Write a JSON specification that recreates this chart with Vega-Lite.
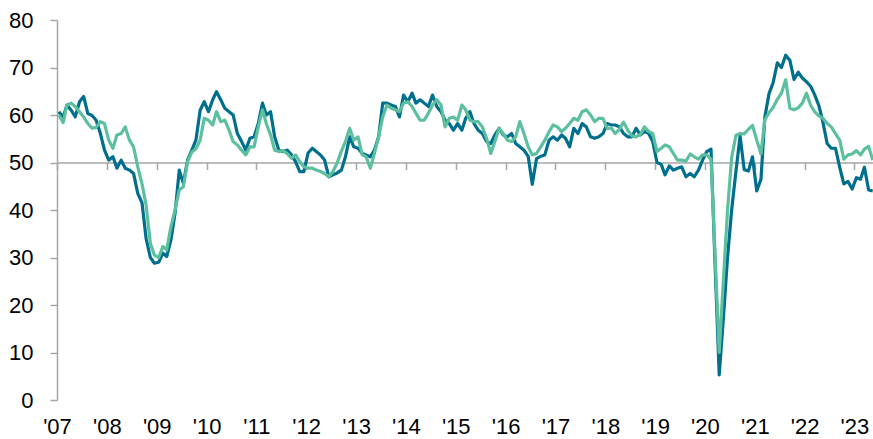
{
"$schema":"https://vega.github.io/schema/vega-lite/v6.json",
"width":816,"height":380,
"autosize":{"type":"none"},
"padding":{"left":57,"top":20,"right":0,"bottom":39},
"background":"white",
"config":{"view":{"stroke":null},"font":"Liberation Sans"},
"data":{"values":[
{"d":"2007-01-15","a":60.7,"b":60.0},{"d":"2007-02-15","a":59.5,"b":58.4},{"d":"2007-03-15","a":62.1,"b":62.1},{"d":"2007-04-15","a":61.0,"b":62.5},{"d":"2007-05-15","a":59.6,"b":61.8},{"d":"2007-06-15","a":62.8,"b":60.7},{"d":"2007-07-15","a":63.9,"b":59.6},{"d":"2007-08-15","a":60.3,"b":58.2},{"d":"2007-09-15","a":59.9,"b":57.2},{"d":"2007-10-15","a":58.9,"b":57.4},{"d":"2007-11-15","a":56.1,"b":58.6},{"d":"2007-12-15","a":52.6,"b":58.2},
{"d":"2008-01-15","a":50.5,"b":54.7},{"d":"2008-02-15","a":51.2,"b":53.0},{"d":"2008-03-15","a":48.8,"b":55.8},{"d":"2008-04-15","a":50.5,"b":56.1},{"d":"2008-05-15","a":48.8,"b":57.5},{"d":"2008-06-15","a":48.4,"b":54.7},{"d":"2008-07-15","a":47.7,"b":53.3},{"d":"2008-08-15","a":43.5,"b":49.1},{"d":"2008-09-15","a":41.5,"b":45.5},{"d":"2008-10-15","a":34.0,"b":41.0},{"d":"2008-11-15","a":30.0,"b":33.0},{"d":"2008-12-15","a":28.8,"b":30.5},
{"d":"2009-01-15","a":29.0,"b":30.0},{"d":"2009-02-15","a":30.9,"b":32.3},{"d":"2009-03-15","a":30.2,"b":31.6},{"d":"2009-04-15","a":33.7,"b":36.5},{"d":"2009-05-15","a":39.3,"b":40.0},{"d":"2009-06-15","a":48.4,"b":44.2},{"d":"2009-07-15","a":45.6,"b":44.9},{"d":"2009-08-15","a":50.5,"b":50.2},{"d":"2009-09-15","a":52.6,"b":52.2},{"d":"2009-10-15","a":54.7,"b":52.9},{"d":"2009-11-15","a":61.0,"b":54.7},{"d":"2009-12-15","a":62.8,"b":59.3},
{"d":"2010-01-15","a":60.7,"b":58.9},{"d":"2010-02-15","a":63.2,"b":57.9},{"d":"2010-03-15","a":64.9,"b":60.7},{"d":"2010-04-15","a":63.2,"b":58.6},{"d":"2010-05-15","a":61.4,"b":58.9},{"d":"2010-06-15","a":60.7,"b":56.8},{"d":"2010-07-15","a":60.0,"b":54.4},{"d":"2010-08-15","a":56.1,"b":53.7},{"d":"2010-09-15","a":54.4,"b":52.6},{"d":"2010-10-15","a":52.6,"b":51.6},{"d":"2010-11-15","a":55.1,"b":53.3},{"d":"2010-12-15","a":55.4,"b":53.3},
{"d":"2011-01-15","a":58.2,"b":57.5},{"d":"2011-02-15","a":62.5,"b":61.1},{"d":"2011-03-15","a":60.0,"b":58.2},{"d":"2011-04-15","a":60.7,"b":55.8},{"d":"2011-05-15","a":55.4,"b":52.6},{"d":"2011-06-15","a":52.6,"b":52.3},{"d":"2011-07-15","a":52.3,"b":52.5},{"d":"2011-08-15","a":52.6,"b":51.9},{"d":"2011-09-15","a":51.6,"b":50.9},{"d":"2011-10-15","a":50.2,"b":51.6},{"d":"2011-11-15","a":48.1,"b":50.2},{"d":"2011-12-15","a":48.1,"b":49.1},
{"d":"2012-01-15","a":52.0,"b":48.8},{"d":"2012-02-15","a":53.0,"b":48.8},{"d":"2012-03-15","a":52.3,"b":48.4},{"d":"2012-04-15","a":51.6,"b":48.1},{"d":"2012-05-15","a":50.5,"b":47.7},{"d":"2012-06-15","a":47.0,"b":47.0},{"d":"2012-07-15","a":47.4,"b":48.1},{"d":"2012-08-15","a":47.8,"b":49.9},{"d":"2012-09-15","a":48.4,"b":52.4},{"d":"2012-10-15","a":51.2,"b":54.4},{"d":"2012-11-15","a":55.4,"b":57.2},{"d":"2012-12-15","a":53.3,"b":54.7},
{"d":"2013-01-15","a":53.0,"b":55.4},{"d":"2013-02-15","a":51.9,"b":51.6},{"d":"2013-03-15","a":51.6,"b":51.2},{"d":"2013-04-15","a":51.2,"b":48.8},{"d":"2013-05-15","a":52.6,"b":51.9},{"d":"2013-06-15","a":55.4,"b":55.4},{"d":"2013-07-15","a":62.5,"b":59.6},{"d":"2013-08-15","a":62.5,"b":62.1},{"d":"2013-09-15","a":62.1,"b":61.4},{"d":"2013-10-15","a":61.8,"b":61.1},{"d":"2013-11-15","a":59.6,"b":60.7},{"d":"2013-12-15","a":64.2,"b":62.5},
{"d":"2014-01-15","a":62.8,"b":62.8},{"d":"2014-02-15","a":64.6,"b":61.8},{"d":"2014-03-15","a":62.5,"b":60.4},{"d":"2014-04-15","a":63.2,"b":58.9},{"d":"2014-05-15","a":62.5,"b":58.9},{"d":"2014-06-15","a":61.8,"b":60.4},{"d":"2014-07-15","a":64.2,"b":62.1},{"d":"2014-08-15","a":61.8,"b":63.2},{"d":"2014-09-15","a":60.7,"b":62.1},{"d":"2014-10-15","a":58.9,"b":57.5},{"d":"2014-11-15","a":58.2,"b":59.3},{"d":"2014-12-15","a":56.8,"b":59.6},
{"d":"2015-01-15","a":58.2,"b":58.9},{"d":"2015-02-15","a":56.8,"b":62.1},{"d":"2015-03-15","a":59.3,"b":61.1},{"d":"2015-04-15","a":60.7,"b":58.9},{"d":"2015-05-15","a":58.2,"b":58.6},{"d":"2015-06-15","a":56.8,"b":58.6},{"d":"2015-07-15","a":56.1,"b":57.5},{"d":"2015-08-15","a":54.4,"b":55.1},{"d":"2015-09-15","a":54.0,"b":51.9},{"d":"2015-10-15","a":55.8,"b":54.4},{"d":"2015-11-15","a":57.2,"b":57.2},{"d":"2015-12-15","a":55.8,"b":56.1},
{"d":"2016-01-15","a":55.4,"b":54.7},{"d":"2016-02-15","a":56.1,"b":54.4},{"d":"2016-03-15","a":54.0,"b":55.4},{"d":"2016-04-15","a":53.3,"b":58.6},{"d":"2016-05-15","a":52.6,"b":56.1},{"d":"2016-06-15","a":51.3,"b":53.3},{"d":"2016-07-15","a":45.4,"b":51.6},{"d":"2016-08-15","a":50.8,"b":51.9},{"d":"2016-09-15","a":51.3,"b":53.3},{"d":"2016-10-15","a":51.6,"b":54.7},{"d":"2016-11-15","a":54.7,"b":56.5},{"d":"2016-12-15","a":55.4,"b":57.9},
{"d":"2017-01-15","a":54.7,"b":57.5},{"d":"2017-02-15","a":55.8,"b":56.5},{"d":"2017-03-15","a":55.1,"b":57.2},{"d":"2017-04-15","a":53.3,"b":58.2},{"d":"2017-05-15","a":57.2,"b":59.3},{"d":"2017-06-15","a":56.1,"b":58.9},{"d":"2017-07-15","a":58.2,"b":60.7},{"d":"2017-08-15","a":57.5,"b":61.1},{"d":"2017-09-15","a":55.4,"b":60.0},{"d":"2017-10-15","a":55.1,"b":58.6},{"d":"2017-11-15","a":55.4,"b":59.3},{"d":"2017-12-15","a":56.1,"b":59.3},
{"d":"2018-01-15","a":58.2,"b":57.2},{"d":"2018-02-15","a":57.9,"b":57.2},{"d":"2018-03-15","a":57.9,"b":56.1},{"d":"2018-04-15","a":57.5,"b":57.0},{"d":"2018-05-15","a":56.1,"b":58.5},{"d":"2018-06-15","a":55.4,"b":56.8},{"d":"2018-07-15","a":55.4,"b":55.6},{"d":"2018-08-15","a":57.2,"b":55.4},{"d":"2018-09-15","a":55.8,"b":55.9},{"d":"2018-10-15","a":56.5,"b":57.5},{"d":"2018-11-15","a":56.1,"b":56.5},{"d":"2018-12-15","a":54.4,"b":56.1},
{"d":"2019-01-15","a":50.0,"b":52.3},{"d":"2019-02-15","a":49.6,"b":53.0},{"d":"2019-03-15","a":47.4,"b":53.7},{"d":"2019-04-15","a":49.3,"b":53.3},{"d":"2019-05-15","a":48.4,"b":51.9},{"d":"2019-06-15","a":48.8,"b":50.5},{"d":"2019-07-15","a":49.1,"b":50.5},{"d":"2019-08-15","a":47.0,"b":50.3},{"d":"2019-09-15","a":47.7,"b":51.8},{"d":"2019-10-15","a":47.0,"b":51.2},{"d":"2019-11-15","a":48.4,"b":50.7},{"d":"2019-12-15","a":50.5,"b":51.6},
{"d":"2020-01-15","a":52.3,"b":51.6},{"d":"2020-02-15","a":52.8,"b":50.7},{"d":"2020-03-15","a":29.0,"b":31.0},{"d":"2020-04-15","a":5.3,"b":10.0},{"d":"2020-05-15","a":17.0,"b":25.0},{"d":"2020-06-15","a":30.0,"b":40.0},{"d":"2020-07-15","a":40.0,"b":51.0},{"d":"2020-08-15","a":48.0,"b":55.7},{"d":"2020-09-15","a":55.6,"b":56.1},{"d":"2020-10-15","a":48.5,"b":56.0},{"d":"2020-11-15","a":48.2,"b":57.0},{"d":"2020-12-15","a":51.2,"b":57.8},
{"d":"2021-01-15","a":44.0,"b":54.7},{"d":"2021-02-15","a":46.5,"b":51.8},{"d":"2021-03-15","a":59.5,"b":59.0},{"d":"2021-04-15","a":64.5,"b":60.5},{"d":"2021-05-15","a":66.8,"b":61.6},{"d":"2021-06-15","a":71.0,"b":63.3},{"d":"2021-07-15","a":70.0,"b":64.6},{"d":"2021-08-15","a":72.6,"b":67.4},{"d":"2021-09-15","a":71.5,"b":61.4},{"d":"2021-10-15","a":67.5,"b":61.1},{"d":"2021-11-15","a":69.0,"b":61.5},{"d":"2021-12-15","a":67.8,"b":62.5},
{"d":"2022-01-15","a":67.0,"b":64.6},{"d":"2022-02-15","a":66.0,"b":62.0},{"d":"2022-03-15","a":64.3,"b":60.7},{"d":"2022-04-15","a":62.0,"b":59.8},{"d":"2022-05-15","a":58.5,"b":59.3},{"d":"2022-06-15","a":54.0,"b":58.2},{"d":"2022-07-15","a":53.0,"b":57.5},{"d":"2022-08-15","a":53.0,"b":56.1},{"d":"2022-09-15","a":49.0,"b":54.7},{"d":"2022-10-15","a":45.5,"b":50.7},{"d":"2022-11-15","a":46.0,"b":51.6},{"d":"2022-12-15","a":44.4,"b":51.8},
{"d":"2023-01-15","a":46.8,"b":52.5},{"d":"2023-02-15","a":46.5,"b":51.6},{"d":"2023-03-15","a":49.0,"b":52.8},{"d":"2023-04-15","a":44.2,"b":53.4},{"d":"2023-05-15","a":44.0,"b":50.5}
]},
"encoding":{
"x":{"field":"d","type":"temporal",
"scale":{"type":"utc","domain":[{"year":2007,"month":1,"date":1,"utc":true},{"year":2023,"month":5,"date":17,"utc":true}]},
"axis":{"title":null,"format":"'%y","offset":-237.5,
"values":[{"year":2007,"month":1,"date":1,"utc":true},{"year":2008,"month":1,"date":1,"utc":true},{"year":2009,"month":1,"date":1,"utc":true},{"year":2010,"month":1,"date":1,"utc":true},{"year":2011,"month":1,"date":1,"utc":true},{"year":2012,"month":1,"date":1,"utc":true},{"year":2013,"month":1,"date":1,"utc":true},{"year":2014,"month":1,"date":1,"utc":true},{"year":2015,"month":1,"date":1,"utc":true},{"year":2016,"month":1,"date":1,"utc":true},{"year":2017,"month":1,"date":1,"utc":true},{"year":2018,"month":1,"date":1,"utc":true},{"year":2019,"month":1,"date":1,"utc":true},{"year":2020,"month":1,"date":1,"utc":true},{"year":2021,"month":1,"date":1,"utc":true},{"year":2022,"month":1,"date":1,"utc":true},{"year":2023,"month":1,"date":1,"utc":true}],
"domainColor":"#A6A6A6","domainWidth":1.5,"tickColor":"#A6A6A6","tickWidth":1.5,"tickSize":7,
"labelFontSize":22,"labelColor":"#000000","labelPadding":247,"labelFlush":false,"labelOverlap":false,"grid":false}}
},
"layer":[
{"mark":{"type":"line","color":"#006F8E","strokeWidth":3.2,"strokeJoin":"round"},
"encoding":{"y":{"field":"a","type":"quantitative","scale":{"domain":[0,80],"nice":false},
"axis":{"title":null,"values":[0,10,20,30,40,50,60,70,80],"domainColor":"#A6A6A6","domainWidth":1.5,"tickColor":"#A6A6A6","tickWidth":1.5,"tickSize":7,"labelFontSize":22,"labelColor":"#000000","labelPadding":17,"grid":false}}}},
{"mark":{"type":"line","color":"#5CBF9F","strokeWidth":3.2,"strokeJoin":"round"},
"encoding":{"y":{"field":"b","type":"quantitative",
"axis":{"title":null,"values":[0,10,20,30,40,50,60,70,80],"domainColor":"#A6A6A6","domainWidth":1.5,"tickColor":"#A6A6A6","tickWidth":1.5,"tickSize":7,"labelFontSize":22,"labelColor":"#000000","labelPadding":17,"grid":false}}}}
]
}
